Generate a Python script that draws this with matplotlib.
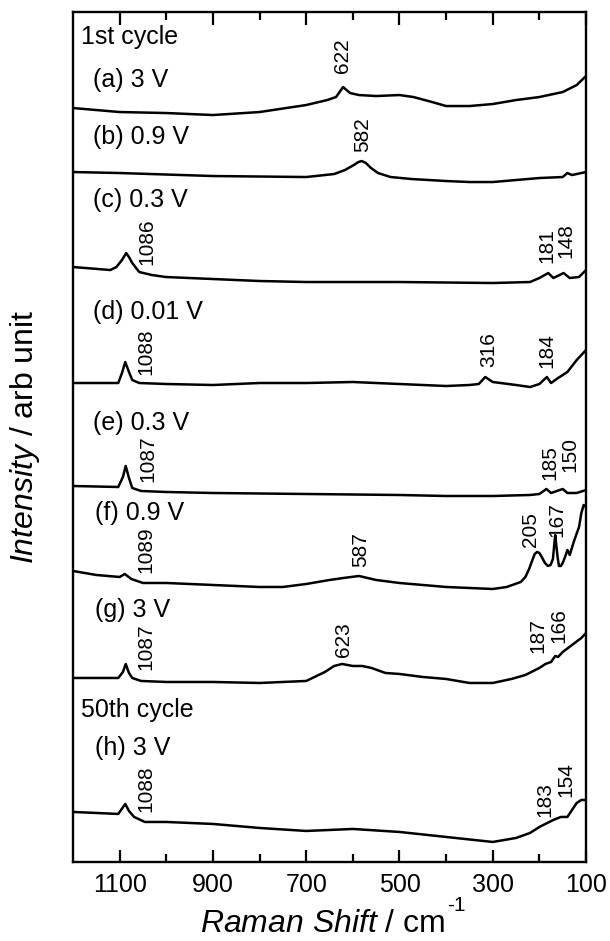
import matplotlib
matplotlib.use("Agg")
import matplotlib.pyplot as plt
from matplotlib.ticker import FixedLocator

plt.rcParams["font.family"] = ["Liberation Sans", "DejaVu Sans"]
plt.rcParams["mathtext.fontset"] = "custom"
plt.rcParams["mathtext.rm"] = "Liberation Sans"
plt.rcParams["mathtext.it"] = "Liberation Sans:italic"

# spectra (shift in cm-1, intensity in arb. units incl. stacking offset)
a_x = [1200, 1100, 1000, 900, 800, 700, 655, 636, 621, 606, 587, 550, 500, 470, 430, 400, 350, 300, 250, 200, 150, 120, 100]
a_y = [754, 750, 749, 747, 750, 757, 762, 765, 775, 769, 767, 766, 767, 765, 760, 756, 756, 758, 762, 765, 770, 777, 786]

b_x = [1200, 1100, 900, 700, 640, 617, 598, 588, 581, 572, 561, 546, 519, 474, 400, 350, 300, 250, 200, 150, 140, 130, 100]
b_y = [690, 689, 686, 685, 688, 692, 697, 700, 701, 699, 694, 689, 685, 683, 681, 680, 680, 682, 684, 685, 689, 687, 690]

c_x = [1200, 1120, 1107, 1095, 1086, 1080, 1073, 1058, 1031, 1001, 900, 800, 700, 500, 300, 220, 200, 181, 170, 148, 135, 115, 100]
c_y = [595, 592, 595, 602, 609, 605, 599, 590, 587, 585, 583, 581, 580, 580, 579, 580, 584, 589, 584, 589, 584, 585, 592]

d_x = [1200, 1103, 1095, 1088, 1080, 1073, 1058, 1000, 900, 800, 700, 600, 500, 400, 350, 330, 316, 300, 250, 220, 200,
       184, 175, 160, 140, 120, 100]
d_y = [479, 479, 489, 500, 490, 482, 479, 478, 477, 479, 479, 480, 478, 476, 477, 478, 485, 480, 477, 475, 478,
       485, 479, 484, 490, 502, 512]

e_x = [1200, 1103, 1093, 1087, 1080, 1073, 1054, 1000, 900, 700, 500, 400, 300, 220, 200, 185, 175, 150, 140, 120, 100]
e_y = [376, 375, 385, 396, 384, 374, 371, 370, 369, 368, 367, 366, 366, 367, 368, 373, 369, 373, 369, 369, 372]

f_x = [1200, 1150, 1100, 1089, 1075, 1050, 1000, 950, 900, 800, 750, 700, 650, 620, 587, 550, 500, 450, 400, 350, 300, 270,
       240, 230, 222, 215, 210, 205, 200, 195, 188, 182, 176, 171, 168, 166, 164, 161, 158, 154, 150, 145, 140, 135, 125,
       115, 110, 105, 100]
f_y = [291, 287, 285, 288, 283, 279, 279, 278, 277, 275, 275, 278, 282, 284, 286, 282, 279, 277, 275, 274, 273, 275,
       280, 285, 293, 302, 308, 310, 309, 305, 299, 296, 297, 303, 318, 327, 318, 305, 296, 296, 299, 305, 312, 307, 322,
       335, 349, 357, 355]

g_x = [1200, 1103, 1093, 1087, 1080, 1073, 1054, 1000, 900, 800, 750, 700, 660, 640, 623, 600, 580, 560, 530, 500, 450, 400,
       350, 320, 300, 260, 230, 200, 187, 175, 166, 160, 150, 130, 110, 100]
g_y = [184, 184, 190, 198, 189, 184, 181, 180, 180, 179, 180, 181, 190, 196, 198, 196, 196, 194, 189, 188, 185, 183,
       179, 179, 179, 183, 187, 194, 198, 200, 206, 205, 210, 217, 224, 229]

h_x = [1200, 1150, 1103, 1094, 1088, 1080, 1069, 1046, 1000, 900, 800, 700, 600, 500, 400, 300, 250, 220, 200, 183, 170,
       154, 140, 120, 110, 100]
h_y = [50, 49, 48, 54, 58, 51, 45, 40, 40, 38, 34, 31, 33, 30, 25, 20, 24, 29, 35, 39, 42,
       45, 45, 59, 62, 62]

spectra = [(a_x, a_y), (b_x, b_y), (c_x, c_y), (d_x, d_y), (e_x, e_y), (f_x, f_y), (g_x, g_y), (h_x, h_y)]

# curve labels: text, x (cm-1), y
curve_labels = ["1st cycle", "(a) 3 V", "(b) 0.9 V", "(c) 0.3 V", "(d) 0.01 V", "(e) 0.3 V",
                "(f) 0.9 V", "(g) 3 V", "50th cycle", "(h) 3 V"]
curve_label_x = [1183, 1157, 1157, 1157, 1157, 1157, 1153, 1153, 1183, 1153]
curve_label_y = [825, 782, 725, 662, 550, 439, 349, 252, 152, 114]

# peak annotations: text, x (cm-1), y of text bottom
peak_text = ["622", "582", "1086", "181", "148", "1088", "316", "184", "1087", "185", "150",
             "205", "167", "1089", "587", "1087", "623", "187", "166", "1088", "183", "154"]
peak_x = [622, 580, 1041, 184, 143, 1043, 309, 184, 1039, 177, 135,
          218, 162, 1044, 583, 1043, 621, 203, 158, 1043, 188, 143]
peak_y = [789, 710, 597, 599, 604, 487, 495, 494, 380, 382, 390,
          315, 325, 289, 295, 192, 205, 209, 219, 50, 45, 65]

fig = plt.figure(figsize=(6.10, 9.41), dpi=100)
ax = fig.add_axes([0.1197, 0.0840, 0.8410, 0.9032])

for xs, ys in spectra:
    ax.plot(xs, ys, color="black", linewidth=1.8, solid_joinstyle="round")

for t, x, y in zip(curve_labels, curve_label_x, curve_label_y):
    ax.text(x, y, t, fontsize=18, ha="left", va="center")

for t, x, y in zip(peak_text, peak_x, peak_y):
    ax.text(x, y, t, fontsize=15, rotation=90, ha="center", va="bottom")

ax.set_xlim(1200, 100)
ax.set_ylim(0, 850)
ax.xaxis.set_major_locator(FixedLocator([1100, 900, 700, 500, 300, 100]))
ax.xaxis.set_minor_locator(FixedLocator([1000, 800, 600, 400, 200]))
ax.tick_params(axis="x", which="major", direction="in", length=9, width=1.6,
               top=True, labelsize=18, pad=8)
ax.tick_params(axis="x", which="minor", direction="in", length=5.5, width=1.6, top=True)
ax.set_yticks([])
for s in ax.spines.values():
    s.set_linewidth(1.7)

# x label with a hyphen superscript, placed by hand
ax.text(0.725, -0.082, r"$\mathit{Raman\ Shift}$ / cm", transform=ax.transAxes,
        fontsize=23, ha="right", va="baseline")
ax.text(0.729, -0.058, "-1", transform=ax.transAxes, fontsize=15, ha="left", va="baseline")

ax.set_ylabel(r"$\mathit{Intensity}$ / arb unit", fontsize=23)
ax.yaxis.set_label_coords(-0.06, 0.5)

fig.savefig("out.png", dpi=100)
